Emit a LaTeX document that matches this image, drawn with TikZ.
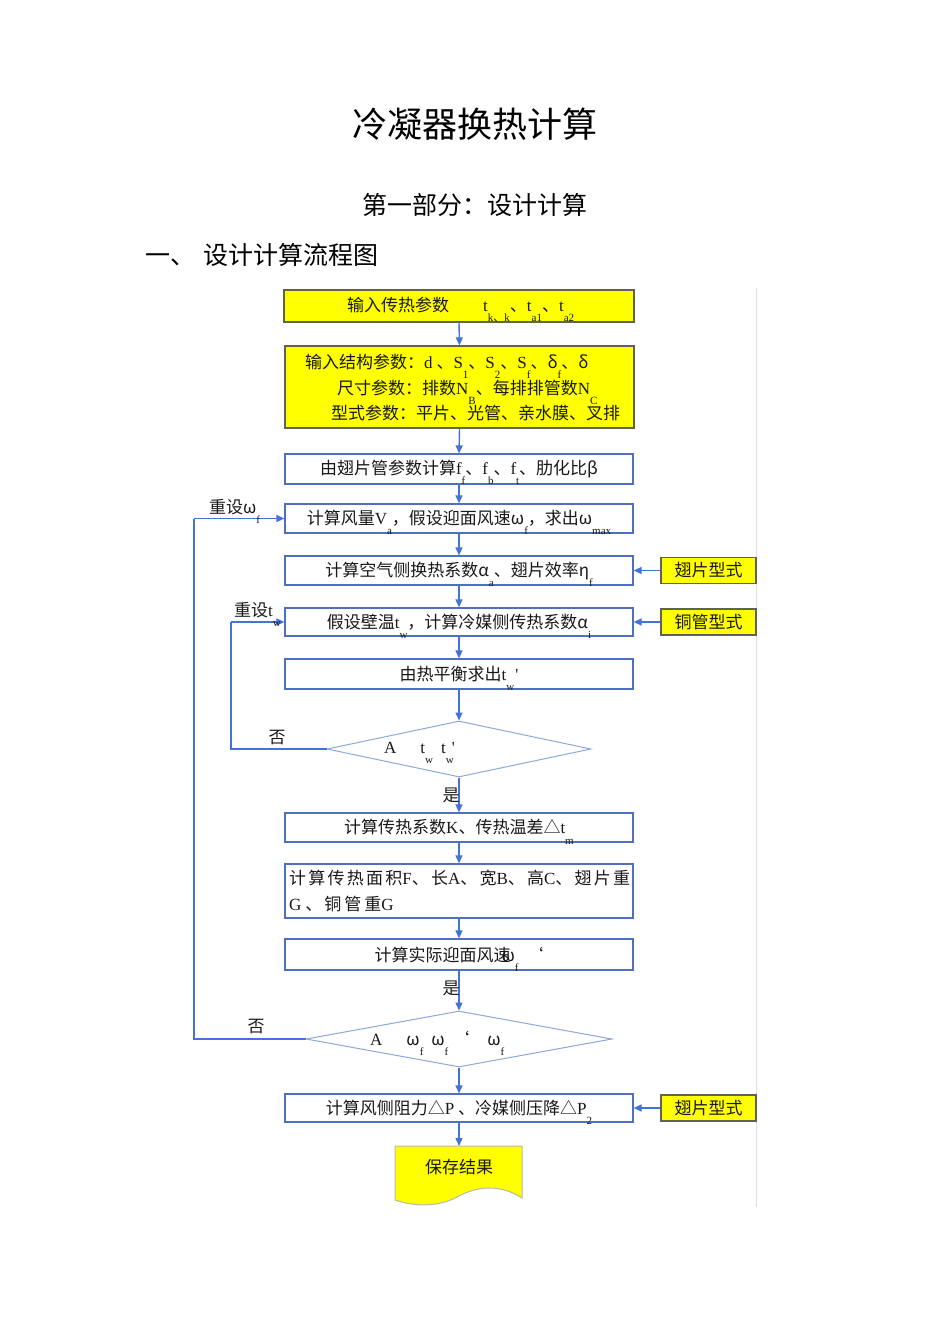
\documentclass[tikz,border=0pt]{standalone}
\usepackage{fontspec}
\setmainfont{Noto Sans CJK SC}
\newfontfamily\lat{Liberation Serif}
\usetikzlibrary{shapes.geometric,arrows.meta}
\definecolor{yel}{RGB}{255,255,0}
\definecolor{bblue}{RGB}{79,112,190}
\definecolor{ablue}{RGB}{68,114,220}
\definecolor{dblue}{RGB}{143,167,220}
\definecolor{ybord}{RGB}{95,100,80}
\definecolor{pagel}{RGB}{218,218,242}
\definecolor{txt}{RGB}{25,25,25}
\newcommand\dn[1]{\raisebox{-0.6em}[0pt][0pt]{\fontsize{11}{11}\selectfont\lat #1}}
\newcommand\T[1]{{\lat #1}}
\newcommand\fs{\fontsize{17}{22}\selectfont}
\begin{document}
\begin{tikzpicture}[x=1pt,y=-1pt,
  flowbox/.style={draw=bblue, line width=1.2pt, fill=white, minimum width=348pt, inner sep=0pt, text=txt, font=\fs},
  inbox/.style={draw=ybord, line width=1.2pt, fill=yel, inner sep=0pt, text=txt, font=\fs},
  sidebox/.style={draw=ybord, line width=1.1pt, fill=yel, minimum width=95pt, minimum height=26pt, inner sep=0pt, text=txt, font=\fs},
  decision/.style={diamond, draw=dblue, line width=1pt, fill=white, inner sep=0pt},
  txtnode/.style={inner sep=0pt, text=txt, font=\fs},
  arr/.style={draw=ablue, line width=1.4pt, -{Triangle[length=8pt,width=7pt]}},
  loopline/.style={draw=ablue, line width=1.3pt},
]
\useasboundingbox (0,0) rectangle (950,1344);
% page edge
\draw[pagel, line width=1pt] (756,288) -- (756,1207);

% titles
\node[inner sep=0pt, font=\fontsize{35}{40}\selectfont] (title) at (475,124) {冷凝器换热计算};
\node[inner sep=0pt, font=\fontsize{25}{30}\selectfont] (sub) at (475,205) {第一部分：设计计算};
\node[inner sep=0pt, anchor=west, font=\fontsize{25}{30}\selectfont] (head) at (145,255) {一、\hspace{8pt}设计计算流程图};

% box 1
\node[inbox, minimum width=350pt, minimum height=32pt] (b1) at (459,306) {};
\node[txtnode, anchor=west] (b1t) at (347,305) {输入传热参数\hspace{34pt}\T{t}\dn{k{\rmfamily 、}\lat k}、\T{t}\dn{a1}、\T{t}\dn{a2}};

% box 2
\node[inbox, minimum width=349pt, minimum height=82pt] (b2) at (459.5,387) {};
\node[txtnode, anchor=west] (b2a) at (305,362) {输入结构参数：\T{d} 、\T{S}\dn{1}、\T{S}\dn{2}、\T{S}\dn{f}、δ\dn{f}、δ};
\node[txtnode, anchor=west] (b2b) at (337,388) {尺寸参数：排数\T{N}\dn{B}、每排排管数\T{N}\dn{C}};
\node[txtnode, anchor=west] (b2c) at (331,413) {型式参数：平片、光管、亲水膜、叉排};

% box 3
\node[flowbox, minimum height=30pt] (b3) at (459,469) {由翅片管参数计算\T{f}\dn{f}、\T{f}\dn{b}、\T{f}\dn{t}、肋化比β};
% box 4
\node[flowbox, minimum height=29pt] (b4) at (459,518.5) {计算风量\T{V}\dn{a}，假设迎面风速ω\dn{f}，求出ω\dn{max}};
% box 5
\node[flowbox, minimum height=29pt] (b5) at (459,570.5) {计算空气侧换热系数α\dn{a}、翅片效率η\dn{f}};
% box 6
\node[flowbox, minimum height=28pt] (b6) at (459,622) {假设壁温\T{t}\dn{w}，计算冷媒侧传热系数α\dn{i}};
% box 7
\node[flowbox, minimum height=30pt] (b7) at (459,674) {由热平衡求出\T{t}\dn{w}\hspace{1pt}\T{'}};
% diamond 1
\node[decision, minimum width=264pt, minimum height=56pt] (d1) at (459,749) {};
\node[txtnode, anchor=west] (d1t) at (384,748) {\T{A}\hspace{24pt}\T{t}\dn{w}\hspace{8pt}\T{t}\dn{w}\hspace{-2pt}\T{'}};
% box 9
\node[flowbox, minimum height=29pt] (b9) at (459,827.5) {计算传热系数\T{K}、传热温差△\T{t}\dn{m}};
% box 10
\node[flowbox, minimum height=54pt] (b10) at (459,891) {};
\node[txtnode, anchor=west] (b10a) at (289,878) {\makebox[341pt][s]{计\hfil 算\hfil 传\hfil 热\hfil 面\hfil 积\T{F}、\hfil 长\T{A}、\hfil 宽\T{B}、\hfil 高\T{C}、\hfil 翅\hfil 片\hfil 重}};
\node[txtnode, anchor=west] (b10b) at (289,904) {\T{G}\hspace{4pt}、\hspace{2pt}铜\hspace{3pt}管\hspace{3pt}重\T{G}};
% box 11
\node[flowbox, minimum height=31pt] (b11) at (459,954.5) {计算实际迎面风速\hspace{-9pt}ω\dn{f}\hspace{8pt}‘};
% diamond 2
\node[decision, minimum width=306pt, minimum height=56pt] (d2) at (459,1039) {};
\node[txtnode, anchor=west] (d2t) at (370,1038) {\T{A}\hspace{24pt}ω\dn{f}\hspace{8pt}ω\dn{f}\hspace{4pt}‘\hspace{18pt}ω\dn{f}};
% box 13
\node[flowbox, minimum height=28pt] (b13) at (459,1108) {计算风侧阻力△\T{P} 、冷媒侧压降△\T{P}\dn{2}};

% save result (document shape)
\draw[draw=ybord!45, line width=1pt, fill=yel] (395,1146) -- (522,1146) -- (522,1198)
  .. controls (500,1184) and (478,1186) .. (459,1196)
  .. controls (440,1207) and (415,1207) .. (395,1200) -- cycle;
\coordinate (savetop) at (459,1146);
\node[txtnode] (save) at (459,1167) {保存结果};

% side boxes
\node[sidebox] (s5) at (708.5,570.5) {翅片型式};
\node[sidebox] (s6) at (708.5,622) {铜管型式};
\node[sidebox] (s13) at (708.5,1108) {翅片型式};

% main arrows
\draw[arr] (b1.south) -- (b2.north);
\draw[arr] (b2.south) -- (b3.north);
\draw[arr] (b3.south) -- (b4.north);
\draw[arr] (b4.south) -- (b5.north);
\draw[arr] (b5.south) -- (b6.north);
\draw[arr] (b6.south) -- (b7.north);
\draw[arr] (b7.south) -- (d1.north);
\draw[arr] (d1.south) -- (b9.north);
\draw[arr] (b9.south) -- (b10.north);
\draw[arr] (b10.south) -- (b11.north);
\draw[arr] (b11.south) -- (d2.north);
\draw[arr] (d2.south) -- (b13.north);
\draw[arr] (b13.south) -- (savetop);

% side arrows
\draw[arr] (s5.west) -- (b5.east);
\draw[arr] (s6.west) -- (b6.east);
\draw[arr] (s13.west) -- (b13.east);

% loops
\coordinate (l1) at (231,749);
\coordinate (l2) at (194,1039);
\draw[loopline] (d1.west) -- (l1) -- (l1 |- b6.west);
\draw[arr] (l1 |- b6.west) -- (b6.west);
\draw[loopline] (d2.west) -- (l2) -- (l2 |- b4.west);
\draw[arr] (l2 |- b4.west) -- (b4.west);

% labels
\node[txtnode] (yes1) at (451,795) {是};
\node[txtnode] (yes2) at (451,988) {是};
\node[txtnode] (no1) at (277,738) {否};
\node[txtnode] (no2) at (256,1027) {否};
\node[txtnode, anchor=west] (re1) at (209,507) {重设ω\dn{f}};
\node[txtnode, anchor=west] (re2) at (234,610) {重设\T{t}\dn{w}};
\end{tikzpicture}
\end{document}
